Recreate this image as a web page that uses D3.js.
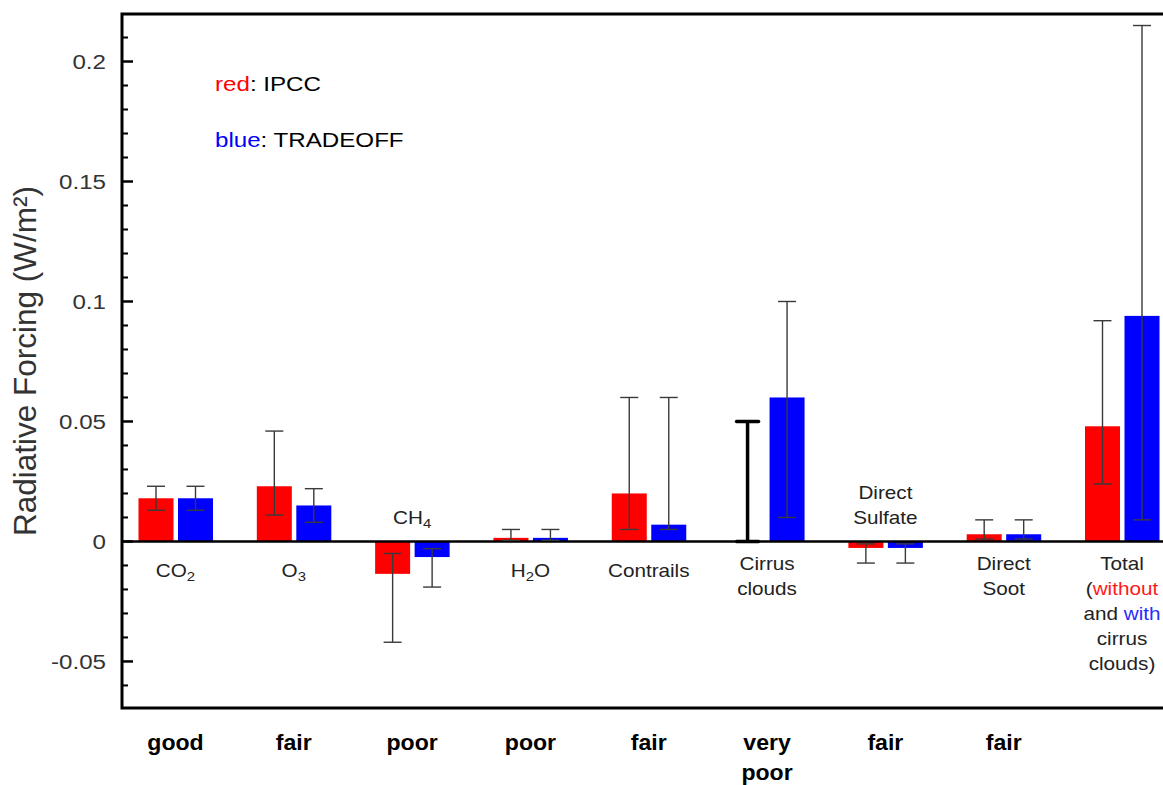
<!DOCTYPE html>
<html>
<head>
<meta charset="utf-8">
<script src="https://cdn.jsdelivr.net/npm/d3@7"></script>
<style>
  html, body { margin: 0; padding: 0; background: #fff; }
  svg { display: block; }
</style>
</head>
<body>
<svg id="chart" width="1163" height="785"></svg>
<script>
// ---------------- data ----------------
const categories = ["CO2", "O3", "CH4", "H2O", "Contrails", "Cirrus", "Sulfate", "Soot", "Total"];
const ipccValues     = [0.018, 0.023, -0.0135, 0.0015, 0.020, null,  -0.0027, 0.003, 0.048];
const ipccLow        = [0.013, 0.011, -0.042,  0.0005, 0.005, 0.0,   -0.009,  0.001, 0.024];
const ipccHigh       = [0.023, 0.046, -0.005,  0.005,  0.060, 0.050, -0.001,  0.009, 0.092];
const tradeoffValues = [0.018, 0.015, -0.0065, 0.0015, 0.007, 0.060, -0.0027, 0.003, 0.094];
const tradeoffLow    = [0.013, 0.008, -0.019,  0.0005, 0.005, 0.010, -0.009,  0.001, 0.009];
const tradeoffHigh   = [0.023, 0.022, -0.003,  0.005,  0.060, 0.100, -0.001,  0.009, 0.215];
const quality = [["good"], ["fair"], ["poor"], ["poor"], ["fair"], ["very", "poor"], ["fair"], ["fair"], []];
const yTicks = [-0.05, 0, 0.05, 0.1, 0.15, 0.2];
const yTickLabels = ["-0.05", "0", "0.05", "0.1", "0.15", "0.2"];
// category label lines; each segment: [text, colour, subscript?]
const catLabels = [
  [[["CO", null], ["2", null, true]]],
  [[["O", null], ["3", null, true]]],
  [[["CH", null], ["4", null, true]]],
  [[["H", null], ["2", null, true], ["O", null]]],
  [[["Contrails", null]]],
  [[["Cirrus", null]], [["clouds", null]]],
  [[["Direct", null]], [["Sulfate", null]]],
  [[["Direct", null]], [["Soot", null]]],
  [[["Total", null]], [["(", null], ["without", "#ff1a1a"]], [["and ", null], ["with", "#2b2bff"]], [["cirrus", null]], [["clouds)", null]]]
];
const legendItems = [["red", "#ff0000", ": IPCC"], ["blue", "#0000ff", ": TRADEOFF"]];

// ---------------- layout ----------------
const M = { left: 122, top: 14, bottom: 708, right: 1163 };
const FONT = "'Liberation Sans', Arial, Helvetica, sans-serif";
const SX = 1.15; // horizontal stretch of the reference lettering

const svg = d3.select("#chart");
const x = d3.scalePoint().domain(categories).range([175.5, 1122]);
const y = d3.scaleLinear().domain([-0.0694, 0.2198]).range([M.bottom, M.top]);
const barW = 35;
const y0 = y(0);

function stretchedText(parent, px, py, anchor, size, sx, weight, segments, baseFill) {
  const g = parent.append("g").attr("transform", `translate(${px},${py}) scale(${sx},1)`);
  const t = g.append("text")
    .attr("x", 0).attr("y", 0)
    .attr("text-anchor", anchor)
    .attr("font-family", FONT)
    .attr("font-size", size)
    .attr("font-weight", weight)
    .attr("fill", baseFill);
  let shifted = false;
  segments.forEach(seg => {
    const [s, col, sub] = seg;
    const ts = t.append("tspan").text(s);
    if (col) ts.attr("fill", col);
    if (sub) { ts.attr("font-size", size * 0.72).attr("dy", 4); shifted = true; }
    else if (shifted) { ts.attr("dy", -4); shifted = false; }
  });
  return t;
}

// ---------------- bars ----------------
const gBars = svg.append("g");
function barRect(val, cx, offset, color) {
  if (val === null) return;
  gBars.append("rect")
    .attr("x", cx + offset)
    .attr("y", Math.min(y(val), y0))
    .attr("width", barW)
    .attr("height", Math.abs(y(val) - y0))
    .attr("fill", color);
}
categories.forEach((c, i) => {
  const cx = x(c);
  barRect(ipccValues[i], cx, -37, "#ff0000");
  barRect(tradeoffValues[i], cx, 2.5, "#0000ff");
});

// ---------------- frame & zero line ----------------
svg.append("line").attr("x1", M.left).attr("x2", M.right).attr("y1", y0).attr("y2", y0)
  .attr("stroke", "#000").attr("stroke-width", 2.5);
svg.append("path")
  .attr("d", `M${M.right},${M.top}H${M.left}V${M.bottom}H${M.right}`)
  .attr("fill", "none").attr("stroke", "#000").attr("stroke-width", 3);

// ---------------- error bars ----------------
const gErr = svg.append("g");
function errBar(lo, hi, cx, thick) {
  const cap = thick ? 11 : 9;
  const col = thick ? "#000" : "#3a3a3a";
  const sw = thick ? 3.5 : 1.4;
  gErr.append("line").attr("x1", cx).attr("x2", cx).attr("y1", y(lo)).attr("y2", y(hi))
    .attr("stroke", col).attr("stroke-width", sw);
  [lo, hi].forEach(v => {
    gErr.append("line").attr("x1", cx - cap).attr("x2", cx + cap).attr("y1", y(v)).attr("y2", y(v))
      .attr("stroke", col).attr("stroke-width", sw).attr("stroke-linecap", thick ? "round" : "butt");
  });
}
categories.forEach((c, i) => {
  const cx = x(c);
  errBar(ipccLow[i], ipccHigh[i], cx - 37 + barW / 2, ipccValues[i] === null);
  errBar(tradeoffLow[i], tradeoffHigh[i], cx + 2.5 + barW / 2, false);
});

// ---------------- y axis ticks ----------------
const gAxis = svg.append("g");
const minor = d3.range(-6, 22).map(k => k / 100);
minor.forEach(v => {
  const isMajor = Math.abs(v * 20 - Math.round(v * 20)) < 1e-9;
  gAxis.append("line").attr("x1", M.left).attr("x2", M.left + (isMajor ? 11 : 6))
    .attr("y1", y(v)).attr("y2", y(v))
    .attr("stroke", "#000").attr("stroke-width", isMajor ? 2.5 : 2);
});
yTicks.forEach((v, i) => {
  stretchedText(gAxis, 106, y(v) + 7.5, "end", 21, SX, "normal", [[yTickLabels[i], null]], "#333");
});

// y title
svg.append("text")
  .attr("transform", `translate(36,${(M.top + M.bottom) / 2}) rotate(-90)`)
  .attr("text-anchor", "middle")
  .attr("font-family", FONT)
  .attr("font-size", 31.5)
  .attr("fill", "#333")
  .text("Radiative Forcing (W/m²)");

// ---------------- category labels ----------------
const gLab = svg.append("g");
categories.forEach((c, i) => {
  const lines = catLabels[i];
  const neg = ipccValues[i] !== null && ipccValues[i] < 0;
  const lh = 25;
  lines.forEach((ln, j) => {
    let by;
    if (neg) by = y0 - 17 - (lines.length - 1 - j) * lh;
    else by = y0 + (lines.length > 1 ? 29 : 36) + j * lh;
    stretchedText(gLab, x(c), by, "middle", 18, SX, "normal", ln, "#222");
  });
});

// ---------------- quality labels ----------------
categories.forEach((c, i) => {
  quality[i].forEach((q, j) => {
    stretchedText(gLab, x(c), 750 + j * 30, "middle", 22, 1.05, "bold", [[q, null]], "#000");
  });
});

// ---------------- legend ----------------
legendItems.forEach((it, i) => {
  stretchedText(svg, 215, 91 + i * 56, "start", 21, SX, "normal", [[it[0], it[1]], [it[2], null]], "#000");
});
</script>
</body>
</html>
